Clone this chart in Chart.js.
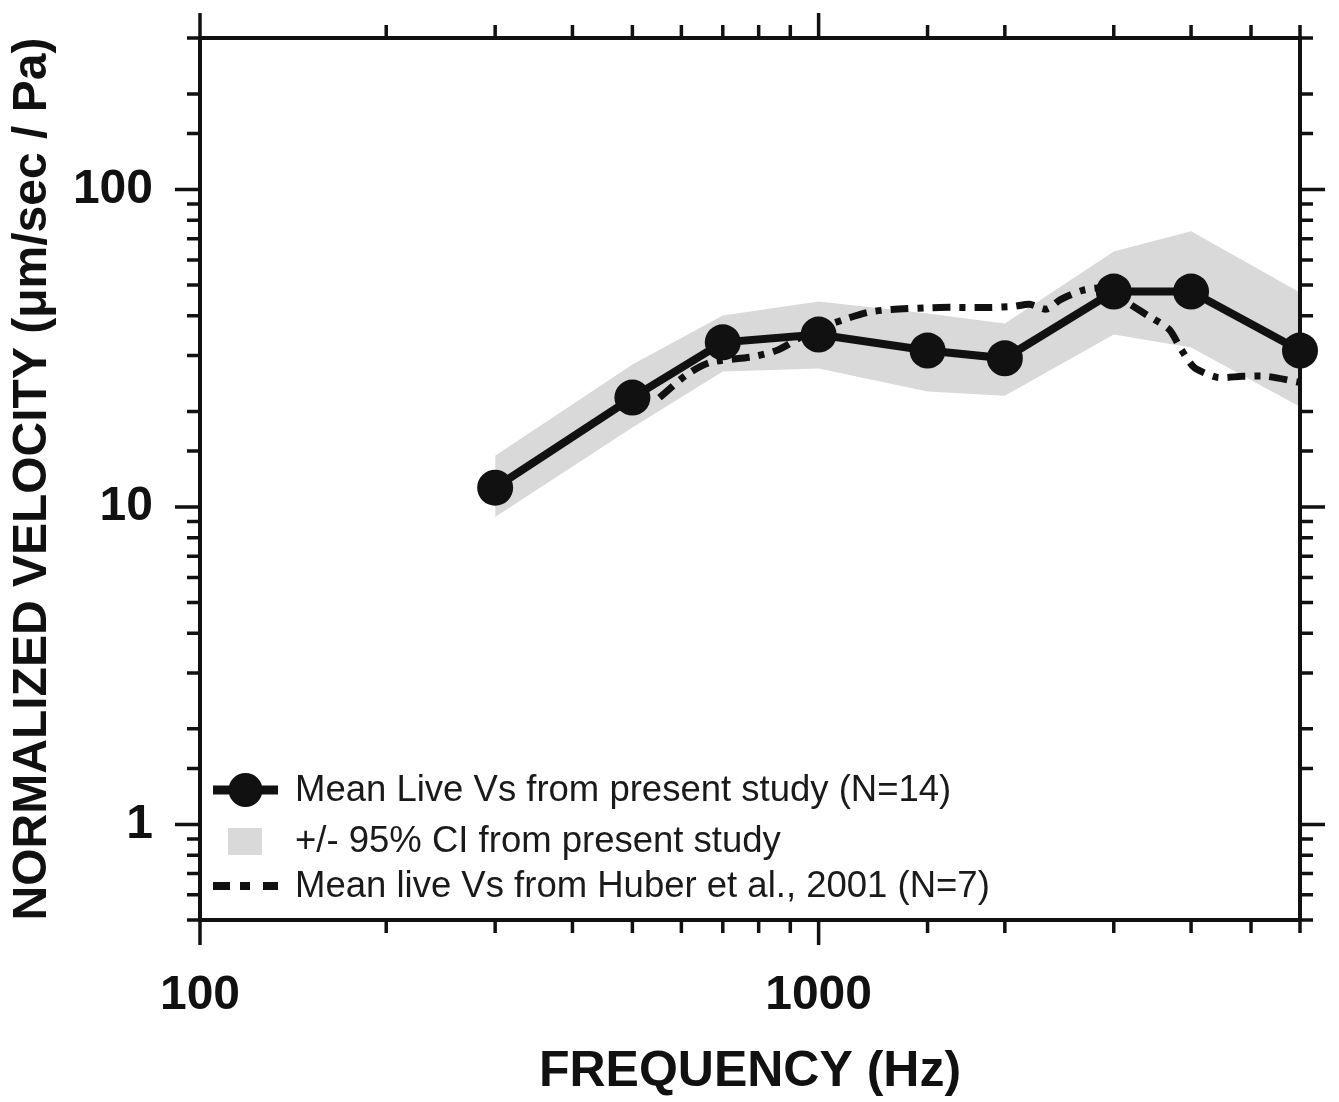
<!DOCTYPE html>
<html>
<head>
<meta charset="utf-8">
<script src="https://cdn.jsdelivr.net/npm/chart.js@4.4.1/dist/chart.umd.min.js"></script>
<style>
  html, body { margin: 0; padding: 0; background: #fff; }
  #wrap { width: 1339px; height: 1102px; }
</style>
</head>
<body>
<div id="wrap"><canvas id="chart" width="1339" height="1102"></canvas></div>
<script>
// values
const freqs   = [300, 500, 700, 1000, 1500, 2000, 3000, 4000, 6000];
const meanVs  = [11.5, 22.1, 33.0, 34.9, 31.1, 29.4, 47.7, 47.7, 31.1];
const ciUpper = [14.5, 28.1, 40.1, 44.4, 40.7, 37.8, 63.8, 73.8, 47.4];
const ciLower = [9.3, 17.8, 26.7, 27.3, 23.1, 22.4, 34.9, 31.8, 20.7];

// Huber et al. 2001 curve
const huberFreqs = [553, 612, 667, 788, 862, 966, 1102, 1200, 1312, 1568, 1890, 2065, 2193, 2336, 2460, 2672, 2899, 3192, 3424, 3690, 3857, 4048, 4413, 4843, 5297, 5986];
const huberVs    = [22.1, 26.1, 28.5, 29.8, 31.3, 35.5, 39.0, 41.0, 41.9, 42.5, 42.5, 42.8, 43.5, 42.0, 45.0, 48.1, 48.8, 43.4, 39.8, 36.2, 31.3, 27.5, 25.6, 25.8, 25.8, 24.7];

const xTickLabels = [100, 1000];
const yTickLabels = [1, 10, 100];
const legendLabels = [
  "Mean Live Vs from present study (N=14)",
  "+/- 95% CI from present study",
  "Mean live Vs from Huber et al., 2001 (N=7)"
];

const INK = "#111";
const BAND = "#d9d9d9";
const FONT = "'Liberation Sans', Arial, Helvetica, sans-serif";

const pts = (xs, ys) => xs.map((x, i) => ({ x: x, y: ys[i] }));

const isDecade = v => Math.abs(Math.log10(v) - Math.round(Math.log10(v))) < 1e-9;

// frame + outward ticks on all four sides
const frameTicks = {
  id: "frameTicks",
  beforeDatasetsDraw(chart) {
    const ctx = chart.ctx, a = chart.chartArea;
    const xs = chart.scales.x, ys = chart.scales.y;
    ctx.save();
    ctx.strokeStyle = INK;
    ctx.lineWidth = 4;
    ctx.strokeRect(a.left, a.top, a.right - a.left, a.bottom - a.top);
    ctx.lineWidth = 3.5;
    ctx.beginPath();
    xs.ticks.forEach(t => {
      const px = xs.getPixelForValue(t.value);
      const len = isDecade(t.value) ? 25 : 13;
      ctx.moveTo(px, a.bottom); ctx.lineTo(px, a.bottom + len);
      ctx.moveTo(px, a.top); ctx.lineTo(px, a.top - len);
    });
    ys.ticks.forEach(t => {
      const py = ys.getPixelForValue(t.value);
      const len = isDecade(t.value) ? 25 : 13;
      ctx.moveTo(a.left, py); ctx.lineTo(a.left - len, py);
      ctx.moveTo(a.right, py); ctx.lineTo(a.right + len, py);
    });
    ctx.stroke();
    ctx.restore();
  }
};

// legend in the lower left of the plot
const insetLegend = {
  id: "insetLegend",
  afterDraw(chart) {
    const ctx = chart.ctx;
    const rows = [790, 841, 886];
    const x0 = 213, x1 = 278, tx = 295;
    ctx.save();
    ctx.fillStyle = INK;
    ctx.strokeStyle = INK;

    ctx.lineWidth = 9;
    ctx.beginPath(); ctx.moveTo(x0, rows[0]); ctx.lineTo(x1, rows[0]); ctx.stroke();
    ctx.beginPath(); ctx.arc((x0 + x1) / 2, rows[0], 17, 0, Math.PI * 2); ctx.fill();

    ctx.fillStyle = BAND;
    ctx.fillRect(228, rows[1] - 13, 34, 27);

    ctx.lineWidth = 8;
    ctx.setLineDash([17, 10, 10, 13]);
    ctx.beginPath(); ctx.moveTo(x0, rows[2]); ctx.lineTo(x1, rows[2]); ctx.stroke();
    ctx.setLineDash([]);

    ctx.fillStyle = "#1a1a1a";
    ctx.font = "36.5px " + FONT;
    ctx.textBaseline = "middle";
    ctx.textAlign = "left";
    legendLabels.forEach((s, i) => ctx.fillText(s, tx, rows[i] + 1));
    ctx.restore();
  }
};

new Chart(document.getElementById("chart"), {
  type: "line",
  data: {
    datasets: [
      {
        label: legendLabels[0],
        data: pts(freqs, meanVs),
        borderColor: INK,
        backgroundColor: INK,
        borderWidth: 8,
        pointRadius: 18,
        pointBackgroundColor: INK,
        pointBorderWidth: 0,
        tension: 0,
        clip: false
      },
      {
        label: legendLabels[2],
        data: pts(huberFreqs, huberVs),
        borderColor: INK,
        borderWidth: 7,
        borderDash: [18, 9, 6, 9],
        borderCapStyle: "butt",
        pointRadius: 0,
        tension: 0.25
      },
      {
        label: legendLabels[1],
        data: pts(freqs, ciUpper),
        borderWidth: 0,
        borderColor: "rgba(0,0,0,0)",
        backgroundColor: BAND,
        pointRadius: 0,
        fill: "+1",
        tension: 0
      },
      {
        label: "ci-lower",
        data: pts(freqs, ciLower),
        borderWidth: 0,
        borderColor: "rgba(0,0,0,0)",
        pointRadius: 0,
        fill: false,
        tension: 0
      }
    ]
  },
  options: {
    responsive: false,
    animation: false,
    layout: { padding: { top: 38, right: 39, left: 0, bottom: 0 } },
    plugins: {
      legend: { display: false },
      tooltip: { enabled: false },
      filler: { drawTime: "beforeDatasetsDraw" }
    },
    scales: {
      x: {
        type: "logarithmic",
        position: "bottom",
        min: 100,
        max: 6000,
        border: { display: false },
        grid: { drawOnChartArea: false, drawTicks: true, tickLength: 25, tickColor: "rgba(0,0,0,0)" },
        ticks: {
          autoSkip: false,
          maxRotation: 0,
          padding: 22,
          color: INK,
          font: { family: FONT, size: 48, weight: "bold" },
          callback: v => (xTickLabels.includes(v) ? String(v) : "")
        },
        title: {
          display: true,
          text: "FREQUENCY (Hz)",
          color: INK,
          font: { family: FONT, size: 50, weight: "bold" },
          padding: { top: 0, bottom: 0 }
        },
        afterFit: s => { s.height = 182; s.paddingLeft = 0; s.paddingRight = 0; }
      },
      y: {
        type: "logarithmic",
        position: "left",
        min: 0.5,
        max: 300,
        border: { display: false },
        grid: { drawOnChartArea: false, drawTicks: true, tickLength: 25, tickColor: "rgba(0,0,0,0)" },
        ticks: {
          autoSkip: false,
          padding: 22,
          color: INK,
          font: { family: FONT, size: 48, weight: "bold" },
          callback: v => (yTickLabels.includes(v) ? String(v) : "")
        },
        title: {
          display: true,
          text: "NORMALIZED VELOCITY (\u03bcm/sec / Pa)",
          color: INK,
          font: { family: FONT, size: 48, weight: "bold" },
          padding: { top: 4, bottom: 0 }
        },
        afterFit: s => { s.width = 200; s.paddingTop = 0; s.paddingBottom = 0; }
      }
    }
  },
  plugins: [frameTicks, insetLegend]
});
</script>
</body>
</html>
